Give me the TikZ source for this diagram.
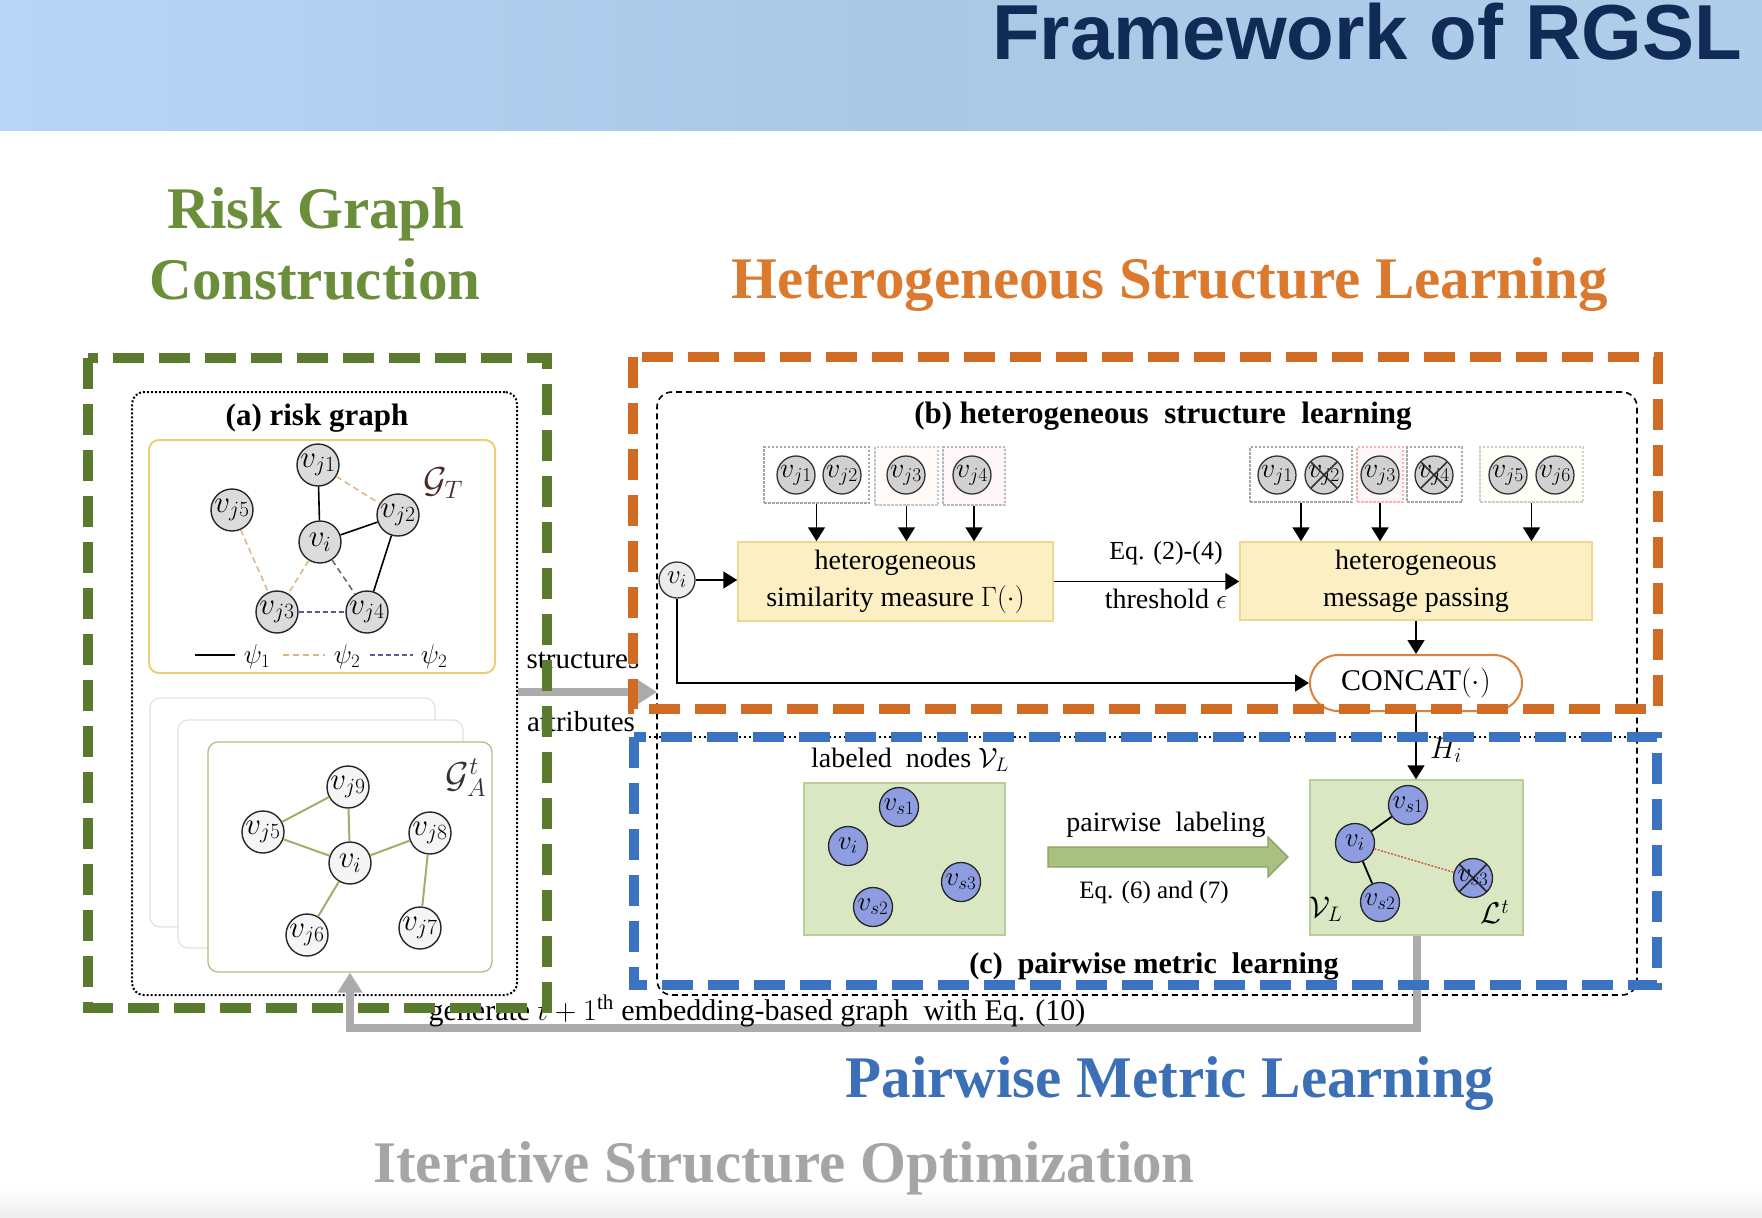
\documentclass[tikz,border=0pt]{standalone}
\usepackage{fix-cm}
\usepackage[no-math]{fontspec}
\setmainfont{Liberation Serif}
\newfontfamily\headsans{Liberation Sans}
\usetikzlibrary{arrows.meta,calc}

\definecolor{hdrA}{HTML}{B8D5F5}
\definecolor{hdrB}{HTML}{A9C8E6}
\definecolor{hdrC}{HTML}{B0CDEA}
\definecolor{navy}{HTML}{112B57}
\definecolor{grnhead}{HTML}{6A8E3A}
\definecolor{orghead}{HTML}{DB7A2F}
\definecolor{bluhead}{HTML}{3B6FB6}
\definecolor{grayhead}{HTML}{A5A5A5}
\definecolor{grnline}{HTML}{5A7B2E}
\definecolor{orgline}{HTML}{CF6B22}
\definecolor{bluline}{HTML}{3B72C2}
\definecolor{gtyellow}{HTML}{E9D074}
\definecolor{yfill}{HTML}{FCEFC4}
\definecolor{yborder}{HTML}{F0D88A}
\definecolor{lgfill}{HTML}{D9E7C3}
\definecolor{lgborder}{HTML}{B9CD98}
\definecolor{nodeblue}{HTML}{8E9DE0}
\definecolor{arrgray}{HTML}{ABABAB}
\definecolor{cardline}{HTML}{B3BF86}
\definecolor{tancol}{HTML}{D9B48A}
\definecolor{purpcol}{HTML}{5A5A9A}
\definecolor{gacol}{HTML}{A3AD6A}
\definecolor{gtlabel}{HTML}{4B2A2A}
\definecolor{redline}{HTML}{D0503A}
\definecolor{concatline}{HTML}{D9833C}
\definecolor{bigarrfill}{HTML}{A8C080}
\definecolor{bigarrline}{HTML}{8AA060}

\newcommand\setfs[1]{\fontsize{#1pt}{#1pt}\selectfont}

\begin{document}
\begin{tikzpicture}[x=1pt,y=-1pt,
  heading/.style={anchor=base,font=\fontsize{59pt}{70pt}\selectfont\bfseries},
  gt/.style={circle,draw=black!85,line width=1.4pt,fill=gray!28,minimum size=42pt,inner sep=0pt,font=\setfs{31}},
  ga/.style={gt,fill=gray!8},
  hb/.style={circle,draw=black!80,line width=1.3pt,fill=gray!36,minimum size=38pt,inner sep=0pt,font=\setfs{28}},
  bn/.style={circle,draw=black!85,line width=1.3pt,fill=nodeblue,minimum size=39pt,inner sep=0pt,font=\setfs{27}},
  xout/.style={path picture={\draw[line width=1.6pt]
      (path picture bounding box.north west) -- (path picture bounding box.south east)
      (path picture bounding box.north east) -- (path picture bounding box.south west);}},
  grp/.style={draw=gray!70,dash pattern=on 2.5pt off 1.5pt,line width=1.3pt,inner sep=0pt},
  ybox/.style={draw=yborder,line width=1.5pt,fill=yfill,inner sep=0pt},
  gbox/.style={draw=lgborder,line width=1.5pt,fill=lgfill,inner sep=0pt},
  card/.style={draw=gray!22,line width=1.3pt,fill=white,rounded corners=10pt,inner sep=0pt},
  arr/.style={line width=1.6pt,-{Triangle[length=14pt,width=17pt]}},
  bigarr/.style={draw=arrgray,line width=8pt,-{Triangle[length=20pt,width=24pt]}},
  bigdash/.style={line width=10pt,dash pattern=on 31pt off 15pt},
  solidedge/.style={line width=1.6pt,black},
  tanedge/.style={line width=1.5pt,tancol,dash pattern=on 6pt off 4pt},
  purpedge/.style={line width=1.5pt,purpcol,dash pattern=on 5pt off 3pt},
  grayedge/.style={line width=1.5pt,black!60,dash pattern=on 6pt off 4pt},
  gaedge/.style={line width=2pt,gacol},
  txt/.style={font=\setfs{28}},
  subhead/.style={font=\setfs{31}\bfseries}
]
\useasboundingbox (0,0) rectangle (1762,1218);
\fill[white] (0,0) rectangle (1762,1218);

% header band and title
\shade[left color=hdrA,right color=hdrC,middle color=hdrB] (0,0) rectangle (1762,130);
\shade[top color=white,bottom color=gray!14] (0,1188) rectangle (1762,1218);
\node[anchor=base east,inner sep=0pt,text=navy,font=\headsans\fontsize{78pt}{80pt}\selectfont\bfseries] (title) at (1742,59) {Framework of RGSL};

% section headings
\node[heading,text=grnhead] (hrisk) at (316,228) {Risk Graph};
\node[heading,text=grnhead] (hcons) at (315,299) {Construction};
\node[heading,text=orghead] (hhsl) at (1170,298) {Heterogeneous Structure Learning};
\node[heading,text=bluhead] (hpml) at (1170,1097) {Pairwise Metric Learning};
\node[heading,text=grayhead] (hiso) at (784,1182) {Iterative Structure Optimization};

% ---------- (a) risk graph ----------
\node[draw,dash pattern=on 2pt off 2pt,line width=2pt,rounded corners=12pt,minimum width=385pt,minimum height=603pt,inner sep=0pt] (abox) at (324.5,693.5) {};
\node[subhead] (atitle) at (317,418) {(a) risk graph};
\node[draw=gtyellow,line width=2pt,rounded corners=10pt,fill=white,minimum width=346pt,minimum height=233pt,inner sep=0pt] (gtbox) at (322,556.5) {};

\node[gt] (t1) at (318,465) {$v_{j1}$};
\node[gt] (t2) at (398,515) {$v_{j2}$};
\node[gt] (t5) at (232,510) {$v_{j5}$};
\node[gt] (ti) at (320,542) {$v_i$};
\node[gt] (t3) at (277,612) {$v_{j3}$};
\node[gt] (t4) at (367,612) {$v_{j4}$};
\draw[solidedge] (ti) -- (t1);
\draw[solidedge] (ti) -- (t2);
\draw[solidedge] (t2) -- (t4);
\draw[tanedge] (t1) -- (t2);
\draw[tanedge] (t5) -- (t3);
\draw[tanedge] (ti) -- (t3);
\draw[grayedge] (ti) -- (t4);
\draw[purpedge] (t3) -- (t4);
\node[text=gtlabel,font=\setfs{36}] (gtl) at (443,483) {$\mathcal{G}_T$};

% legend
\draw[solidedge] (195,655) -- (235,655);
\node[font=\setfs{27}] (psa) at (257,657) {$\psi_1$};
\draw[tanedge] (283,655) -- (325,655);
\node[font=\setfs{27}] (psb) at (347,657) {$\psi_2$};
\draw[purpedge] (370,655) -- (413,655);
\node[font=\setfs{27}] (psc) at (434,657) {$\psi_2$};

% stacked attribute graphs
\node[card,minimum width=285pt,minimum height=229pt] (card1) at (292.5,812.5) {};
\node[card,minimum width=285pt,minimum height=228pt] (card2) at (320.5,834) {};
\node[card,draw=cardline,minimum width=284pt,minimum height=230pt] (card3) at (350,857) {};

\node[ga] (a9) at (348,787) {$v_{j9}$};
\node[ga] (a5) at (263,832) {$v_{j5}$};
\node[ga] (ai) at (350,863) {$v_i$};
\node[ga] (a8) at (430,833) {$v_{j8}$};
\node[ga] (a6) at (307,935) {$v_{j6}$};
\node[ga] (a7) at (420,928) {$v_{j7}$};
\draw[gaedge] (a9) -- (a5);
\draw[gaedge] (a9) -- (ai);
\draw[gaedge] (a5) -- (ai);
\draw[gaedge] (ai) -- (a8);
\draw[gaedge] (ai) -- (a6);
\draw[gaedge] (a8) -- (a7);
\node[text=black!80,font=\setfs{36}] (gal) at (466,778) {$\mathcal{G}_A^t$};

% structures / attributes arrow
\node[font=\setfs{29}] (lstruct) at (583,660) {structures};
\node[font=\setfs{29}] (lattr) at (581,722) {attributes};
\coordinate (stend) at (657,692);
\draw[bigarr] (abox.east |- stend) -- (stend);

% ---------- (b) heterogeneous structure learning ----------
\node[draw,dash pattern=on 6pt off 4pt,line width=1.6pt,rounded corners=15pt,minimum width=980pt,minimum height=603pt,inner sep=0pt] (bbox) at (1147,693.5) {};
\node[subhead] (btitle) at (1163,416) {(b) heterogeneous\ \ structure\ \ learning};

\node[grp,fill=white,minimum width=105pt,minimum height=56pt] (g1) at (816.5,475) {};
\node[grp,draw=gray!45,fill=orange!4,minimum width=63pt,minimum height=58pt] (g2) at (906.5,476) {};
\node[grp,draw=gray!55,fill=red!3,minimum width=62pt,minimum height=58pt] (g3) at (974,476) {};
\node[hb] (b1) at (796,475) {$v_{j1}$};
\node[hb] (b2) at (842,475) {$v_{j2}$};
\node[hb] (b3) at (906,475) {$v_{j3}$};
\node[hb] (b4) at (972,475) {$v_{j4}$};

\node[grp,fill=white,minimum width=102pt,minimum height=55pt] (h1) at (1301,474.5) {};
\node[grp,draw=red!30,fill=red!3,minimum width=46pt,minimum height=55pt] (h2) at (1380,474.5) {};
\node[grp,fill=white,minimum width=55pt,minimum height=55pt] (h3) at (1434.5,474.5) {};
\node[grp,draw=gray!40,fill=yellow!3,minimum width=103pt,minimum height=55pt] (h4) at (1531.5,474.5) {};
\node[hb] (c1) at (1277,475) {$v_{j1}$};
\node[hb,xout] (c2) at (1324,475) {$v_{j2}$};
\node[hb] (c3) at (1380,475) {$v_{j3}$};
\node[hb,xout] (c4) at (1434,475) {$v_{j4}$};
\node[hb] (c5) at (1508,475) {$v_{j5}$};
\node[hb] (c6) at (1555,475) {$v_{j6}$};

\node[ybox,minimum width=315pt,minimum height=79pt,align=center,font=\fontsize{28pt}{37pt}\selectfont] (sim) at (895.5,581.5) {heterogeneous\\similarity measure $\Gamma(\cdot)$};
\node[ybox,minimum width=352pt,minimum height=78pt,align=center,font=\fontsize{28pt}{37pt}\selectfont] (mp) at (1416,581) {heterogeneous\\message passing};
\node[circle,draw=black!80,line width=1.3pt,fill=gray!15,minimum size=36pt,inner sep=0pt,font=\setfs{27}] (bvi) at (677,580) {$v_i$};
\node[draw=concatline,line width=2pt,fill=white,rounded corners=28pt,minimum width=212pt,minimum height=56pt,inner sep=0pt,font=\setfs{30}] (concat) at (1416,683) {CONCAT$(\cdot)$};

\draw[arr] (g1.south) -- (g1.south |- sim.north);
\draw[arr] (g2.south) -- (g2.south |- sim.north);
\draw[arr] (g3.south) -- (g3.south |- sim.north);
\draw[arr] (h1.south) -- (h1.south |- mp.north);
\draw[arr] (h2.south) -- (h2.south |- mp.north);
\draw[arr] (h4.south) -- (h4.south |- mp.north);
\draw[arr] (bvi.east) -- (sim.west |- bvi.east);
\draw[arr] (sim.east) -- (mp.west |- sim.east);
\node[font=\setfs{26}] (eqa) at (1166,553) {Eq. (2)-(4)};
\node[font=\setfs{28}] (thr) at (1166,599) {threshold $\epsilon$};
\draw[arr] (bvi.south) |- (concat.west);
\draw[arr] (mp.south) -- (concat.north);

% ---------- (c) pairwise metric learning ----------
\draw[dash pattern=on 2pt off 3pt,line width=1.3pt] (634,737) -- (1657,737);
\node[txt] (lnodes) at (910,760) {labeled\ \ nodes $\mathcal{V}_L$};
\node[gbox,minimum width=201pt,minimum height=152pt] (lbox) at (904.5,859) {};
\node[bn] (l1) at (899,807) {$v_{s1}$};
\node[bn] (li) at (848,846) {$v_i$};
\node[bn] (l3) at (961,882) {$v_{s3}$};
\node[bn] (l2) at (873,907) {$v_{s2}$};

\fill[draw=bigarrline,line width=1.2pt,fill=bigarrfill]
  (1048,847) -- (1268,847) -- (1268,837) -- (1288,857) -- (1268,877) -- (1268,867) -- (1048,867) -- cycle;
\node[txt] (plab) at (1166,825) {pairwise\ \ labeling};
\node[font=\setfs{25}] (eqb) at (1154,892) {Eq. (6) and (7)};

\node[gbox,minimum width=213pt,minimum height=155pt] (rbox) at (1416.5,857.5) {};
\node[bn] (r1) at (1408,805) {$v_{s1}$};
\node[bn] (ri) at (1355,843) {$v_i$};
\node[bn] (r2) at (1380,902) {$v_{s2}$};
\node[bn,xout] (r3) at (1473,878) {$v_{s3}$};
\draw[line width=1.8pt] (ri) -- (r1);
\draw[line width=1.8pt] (ri) -- (r2);
\draw[redline,line width=1.3pt,dash pattern=on 2pt off 1.5pt] (ri) -- (r3);
\node[font=\setfs{30}] (vl) at (1326,909) {$\mathcal{V}_L$};
\node[font=\setfs{30}] (lt) at (1495,912) {$\mathcal{L}^t$};

\draw[arr] (concat.south) -- (concat.south |- rbox.north);
\node[font=\setfs{30}] (hi) at (1446,750) {$H_i$};

\node[font=\setfs{30}\bfseries] (ctitle) at (1154,966) {(c)\ \ pairwise metric\ \ learning};

% feedback loop
\draw[bigarr] (rbox.south) -- ++(0,92) -| (card3.south);
\node[font=\setfs{30}] (gen) at (757,1011) {generate $t+1$\textsuperscript{th} embedding-based graph\ \ with Eq. (10)};

% section frames
\draw[bigdash,grnline] (88,358) rectangle (547,1008);
\draw[bigdash,orgline] (633,357) rectangle (1658,709);
\draw[bigdash,bluline] (634,737) rectangle (1657,985);
\end{tikzpicture}
\end{document}
